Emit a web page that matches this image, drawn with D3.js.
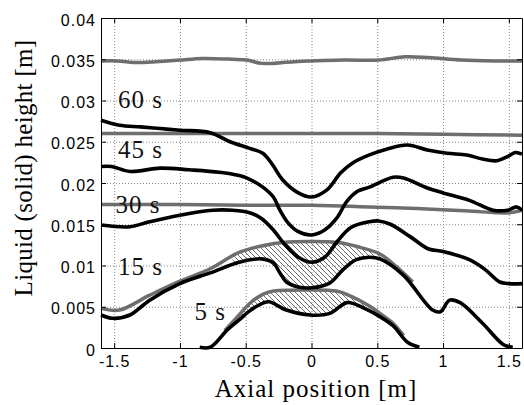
<!DOCTYPE html>
<html>
<head>
<meta charset="utf-8">
<script src="https://cdn.jsdelivr.net/npm/d3@7"></script>
<style>
body { margin: 0; background: #fff; }
</style>
</head>
<body>
<script>
var W = 524, H = 405;
var margin = {top: 18, right: 2, bottom: 57, left: 101};
var w = W - margin.left - margin.right,
    h = H - margin.top - margin.bottom;

// axis ticks
var xTicks = [-1.5, -1, -0.5, 0, 0.5, 1, 1.5];
var xTickLabels = ["-1.5", "-1", "-0.5", "0", "0.5", "1", "1.5"];
var yTicks = [0, 0.005, 0.01, 0.015, 0.02, 0.025, 0.03, 0.035, 0.04];
var yTickLabels = ["0", "0.005", "0.01", "0.015", "0.02", "0.025", "0.03", "0.035", "0.04"];

// liquid height (grey lines) [axial position, height]
var liquid60 = [[-1.6,0.0348],[-1.48,0.0348],[-1.31,0.0346],[-1.1,0.0348],[-1.0,0.0349],[-0.83,0.0351],
  [-0.6,0.0350],[-0.49,0.0349],[-0.38,0.0345],[-0.13,0.0347],[0.25,0.0349],[0.51,0.0349],[0.71,0.0353],
  [0.89,0.0352],[1.14,0.0349],[1.39,0.0348],[1.6,0.0348]];
var liquid45 = [[-1.6,0.0260],[-0.8,0.0260],[0,0.0260],[0.5,0.0260],[1.0,0.0259],[1.6,0.0258]];
var liquid30 = [[-1.6,0.0174],[-1.0,0.0174],[-0.5,0.0173],[0,0.0173],[0.44,0.0171],[0.8,0.0169],
  [1.2,0.0166],[1.4,0.0164],[1.5,0.0164],[1.6,0.0167]];
var liquid15 = [[-1.6,0.0048],[-1.46,0.0046],[-1.23,0.0064],[-1.0,0.0081],[-0.77,0.0096],[-0.55,0.0116],
  [-0.37,0.0124],[-0.22,0.0128],[0.2,0.0128],[0.37,0.0122],[0.52,0.0114],[0.65,0.0098],[0.77,0.0080]];
var liquid5 = [[-0.66,0.0021],[-0.55,0.0040],[-0.47,0.0054],[-0.37,0.0065],[-0.29,0.0069],[-0.15,0.0070],
  [0.19,0.0069],[0.31,0.0062],[0.44,0.0051],[0.52,0.0042],[0.62,0.0030],[0.7,0.0015]];

// solid height (black lines)
var solid60 = [[-1.6,0.0276],[-1.46,0.0270],[-1.3,0.0268],[-1.15,0.0266],[-1.0,0.0264],[-0.77,0.0261],
  [-0.62,0.0250],[-0.47,0.0242],[-0.37,0.0236],[-0.3,0.0223],[-0.22,0.0204],[-0.11,0.0189],[0,0.0183],
  [0.12,0.0192],[0.22,0.0212],[0.31,0.0224],[0.44,0.0234],[0.57,0.0241],[0.73,0.0246],[0.88,0.0240],
  [1.03,0.0236],[1.18,0.0234],[1.3,0.0229],[1.41,0.0227],[1.49,0.0232],[1.55,0.0237],[1.6,0.0235]];
var solid45 = [[-1.6,0.0220],[-1.52,0.0220],[-1.38,0.0214],[-1.15,0.0218],[-0.93,0.0216],[-0.7,0.0213],
  [-0.55,0.0209],[-0.49,0.0206],[-0.37,0.0195],[-0.29,0.0183],[-0.24,0.0167],[-0.18,0.0152],[-0.1,0.0141],
  [0,0.0137],[0.1,0.0143],[0.19,0.0157],[0.27,0.0178],[0.35,0.0190],[0.44,0.0195],[0.62,0.0207],
  [0.7,0.0206],[0.88,0.0194],[1.0,0.0188],[1.2,0.0179],[1.38,0.0167],[1.49,0.0167],[1.56,0.0171],[1.6,0.0167]];
var solid30 = [[-1.6,0.0149],[-1.38,0.0147],[-1.23,0.0153],[-1.0,0.0161],[-0.75,0.0167],[-0.6,0.0167],
  [-0.47,0.0164],[-0.38,0.0157],[-0.29,0.0143],[-0.2,0.0125],[-0.1,0.0110],[0,0.0104],[0.1,0.0110],
  [0.2,0.0130],[0.3,0.0146],[0.44,0.0153],[0.51,0.0154],[0.6,0.0150],[0.75,0.0135],[0.89,0.0120],
  [1.0,0.0117],[1.2,0.0107],[1.32,0.0095],[1.43,0.0080],[1.5,0.0078],[1.6,0.0078]];
var solid15 = [[-1.6,0.0040],[-1.51,0.0036],[-1.38,0.0040],[-1.23,0.0058],[-1.0,0.0078],[-0.77,0.0091],
  [-0.55,0.0104],[-0.38,0.0108],[-0.29,0.0103],[-0.24,0.0091],[-0.19,0.0080],[-0.1,0.0074],[0,0.0073],
  [0.14,0.0079],[0.24,0.0095],[0.34,0.0107],[0.44,0.0110],[0.52,0.0108],[0.7,0.0088],[0.92,0.0046],
  [0.98,0.0044],[1.05,0.0058],[1.13,0.0055],[1.3,0.0030],[1.46,0.0004],[1.53,0.0001]];
var solid5 = [[-0.85,0.0001],[-0.77,0.0001],[-0.64,0.0022],[-0.55,0.0034],[-0.47,0.0045],[-0.36,0.0055],
  [-0.32,0.0056],[-0.19,0.0046],[-0.01,0.0040],[0.14,0.0042],[0.27,0.0055],[0.39,0.0049],[0.52,0.0038],
  [0.62,0.0027],[0.73,0.0007],[0.82,0.0001]];

var timeLabels = ["60 s", "45 s", "30 s", "15 s", "5 s"];
var timeLabelAt = [[-1.47,0.0291],[-1.47,0.0230],[-1.49,0.0164],[-1.47,0.0089],[-0.89,0.0034]];

var x = d3.scaleLinear().domain([-1.6, 1.6]).range([0, w]);
var y = d3.scaleLinear().domain([0, 0.04]).range([h, 0]);

var svg = d3.select("body").append("svg")
    .attr("width", W)
    .attr("height", H)
    .style("background-color", "#fff");

var defs = svg.append("defs");
defs.append("pattern")
    .attr("id", "hatch")
    .attr("patternUnits", "userSpaceOnUse")
    .attr("width", 5).attr("height", 5)
  .append("path")
    .attr("d", "M-1,-1L6,6M-1,4L1,6M4,-1L6,1")
    .attr("stroke", "#6a6a6a")
    .attr("stroke-width", 1);

var g = svg.append("g").attr("transform", "translate(" + margin.left + "," + margin.top + ")");

// dotted grid
g.append("g").attr("class", "grid")
    .attr("transform", "translate(0," + h + ")")
    .call(d3.axisBottom(x).tickValues(xTicks).tickSize(-h).tickFormat(""));
g.append("g").attr("class", "grid")
    .call(d3.axisLeft(y).tickValues(yTicks.slice(1, -1)).tickSize(-w).tickFormat(""));
g.selectAll(".grid .domain").remove();
g.selectAll(".grid line")
    .attr("stroke", "#858585")
    .attr("stroke-width", 1)
    .attr("stroke-dasharray", "1,2");

var line = d3.line()
    .x(function(d) { return x(d[0]); })
    .y(function(d) { return y(d[1]); })
    .curve(d3.curveCatmullRom.alpha(0.5));

// hatched pools between liquid and solid
function pool(id, liquid, solid, x0, x1) {
  defs.append("clipPath").attr("id", id + "L")
    .append("path")
    .attr("d", d3.area().x(function(d) { return x(d[0]); })
      .y0(h).y1(function(d) { return y(d[1]); })
      .curve(d3.curveCatmullRom.alpha(0.5))(liquid));
  defs.append("clipPath").attr("id", id + "S")
    .append("path")
    .attr("d", d3.area().x(function(d) { return x(d[0]); })
      .y0(0).y1(function(d) { return y(d[1]); })
      .curve(d3.curveCatmullRom.alpha(0.5))(solid));
  g.append("g").attr("clip-path", "url(#" + id + "L)")
    .append("rect")
    .attr("clip-path", "url(#" + id + "S)")
    .attr("x", x(x0)).attr("y", 0)
    .attr("width", x(x1) - x(x0)).attr("height", h)
    .attr("fill", "url(#hatch)");
}
pool("p15", liquid15, solid15, -0.6, 0.6);
pool("p5", liquid5, solid5, -0.55, 0.5);

var liquids = [liquid60, liquid45, liquid30, liquid15, liquid5];
var solids = [solid60, solid45, solid30, solid15, solid5];

g.selectAll("path.liquid").data(liquids).enter().append("path")
    .attr("class", "liquid")
    .attr("d", line)
    .attr("fill", "none")
    .attr("stroke", "#6e6e6e")
    .attr("stroke-width", 3.5);

g.selectAll("path.solid").data(solids).enter().append("path")
    .attr("class", "solid")
    .attr("d", line)
    .attr("fill", "none")
    .attr("stroke", "#000")
    .attr("stroke-width", 3.6)
    .attr("stroke-linejoin", "round");

g.selectAll("text.tlab").data(timeLabels).enter().append("text")
    .attr("class", "tlab")
    .attr("x", function(d, i) { return x(timeLabelAt[i][0]); })
    .attr("y", function(d, i) { return y(timeLabelAt[i][1]); })
    .text(function(d) { return d; })
    .style("font-family", "'Liberation Serif', 'Times New Roman', serif")
    .style("font-size", "25px")
    .style("letter-spacing", "1px")
    .style("fill", "#111");

// axes with inward ticks, box
var ax = g.append("g").attr("class", "axis");
ax.append("g").attr("transform", "translate(0," + h + ")")
    .call(d3.axisBottom(x).tickValues(xTicks).tickSize(-5).tickSizeOuter(0).tickPadding(8)
      .tickFormat(function(d, i) { return xTickLabels[i]; }));
ax.append("g")
    .call(d3.axisLeft(y).tickValues(yTicks).tickSize(-5).tickSizeOuter(0).tickPadding(5)
      .tickFormat(function(d, i) { return yTickLabels[i]; }));
ax.append("g")
    .call(d3.axisTop(x).tickValues(xTicks).tickSize(-5).tickSizeOuter(0).tickFormat(""));
ax.append("g").attr("transform", "translate(" + w + ",0)")
    .call(d3.axisRight(y).tickValues(yTicks).tickSize(-5).tickSizeOuter(0).tickFormat(""));
ax.selectAll(".domain, line").attr("stroke", "#000").attr("stroke-width", 1);
ax.selectAll("text")
    .style("font-family", "'Liberation Sans', Arial, sans-serif")
    .style("font-size", "16px")
    .style("letter-spacing", "1px")
    .style("fill", "#000");
ax.selectAll("g text").filter(function() { return this.getAttribute("x") !== null && +this.getAttribute("x") < 0; })
    .attr("dy", "0.45em");

svg.append("text")
    .attr("transform", "translate(316,397)")
    .attr("text-anchor", "middle")
    .text("Axial position [m]")
    .style("font-family", "'Liberation Serif', 'Times New Roman', serif")
    .style("font-size", "25px")
    .style("letter-spacing", "1px");

svg.append("text")
    .attr("transform", "translate(32,168) rotate(-90)")
    .attr("text-anchor", "middle")
    .text("Liquid (solid) height [m]")
    .style("font-family", "'Liberation Serif', 'Times New Roman', serif")
    .style("font-size", "25px")
    .style("letter-spacing", "0.3px");
</script>
</body>
</html>
